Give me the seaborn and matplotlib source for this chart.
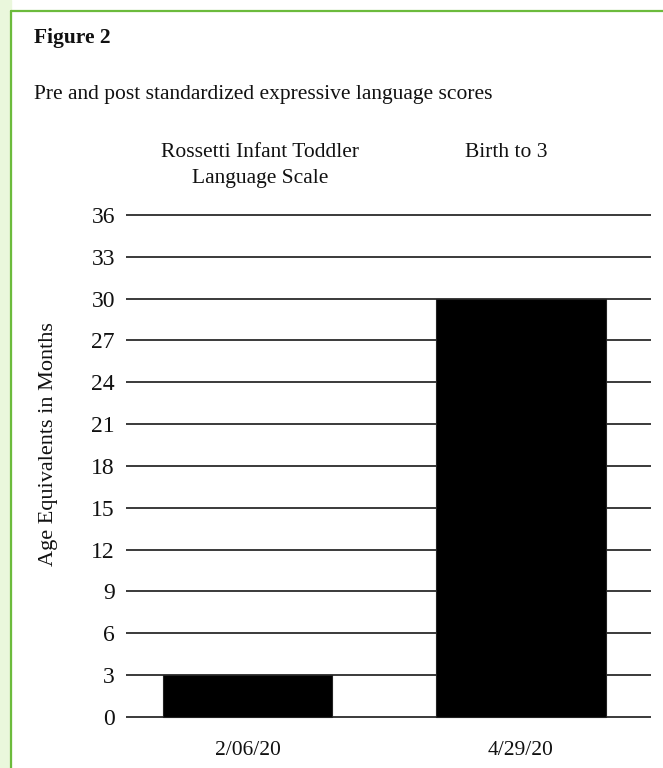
import matplotlib
matplotlib.use("Agg")
import matplotlib.pyplot as plt
import seaborn as sns
import pandas as pd

# data
test_dates = ["2/06/20", "4/29/20"]
age_equiv_months = [3, 30]
test_names = ["Rossetti Infant Toddler\nLanguage Scale", "Birth to 3"]
y_ticks = list(range(0, 37, 3))

SERIF = "Liberation Serif"
sns.set_theme(style="white")
plt.rcParams["font.family"] = "serif"
plt.rcParams["font.serif"] = [SERIF, "DejaVu Serif"]

W, H = 663, 768
fig = plt.figure(figsize=(W / 100, H / 100), dpi=100)

# green page frame like the source document
fig.patches.append(plt.Rectangle((0, 0), 10.5 / W, 1, transform=fig.transFigure,
                                 color="#eaf7dc", zorder=0))
fig.lines.append(plt.Line2D([10.5 / W, 10.5 / W], [0, 1 - 10.5 / H],
                            transform=fig.transFigure, color="#6cbb3c", lw=1.6))
fig.lines.append(plt.Line2D([10.5 / W, 1], [1 - 10.5 / H, 1 - 10.5 / H],
                            transform=fig.transFigure, color="#6cbb3c", lw=1.6))

# axes placed in pixel terms
px_per_unit = (717 - 215) / 36
pad = 0.3
bot_px = 717 + pad * px_per_unit
top_px = 215 - pad * px_per_unit
ax = fig.add_axes([126 / W, 1 - bot_px / H, (651 - 126) / W, (bot_px - top_px) / H])

df = pd.DataFrame({"date": test_dates, "months": age_equiv_months})
sns.barplot(data=df, x="date", y="months", color="black", width=0.62,
            edgecolor="#222222", linewidth=0.8, saturation=1, ax=ax, zorder=3)

ax.set_xlim(-0.444, 1.475)
ax.set_ylim(-pad, 36 + pad)
ax.set_yticks(y_ticks)
ax.yaxis.grid(True, color="#2b2b2b", linewidth=1.3)
ax.set_axisbelow(True)
for s in ax.spines.values():
    s.set_visible(False)
ax.tick_params(axis="y", length=0, pad=8, labelsize=17, labelcolor="#111111")
ax.tick_params(axis="x", length=0, pad=14, labelsize=15.5, labelcolor="#111111")
for lab in ax.get_xticklabels() + ax.get_yticklabels():
    lab.set_family(SERIF)
ax.set_xlabel("")
ax.set_ylabel("")

txt = dict(family=SERIF, fontsize=15.5, color="#111111")
fig.text(48 / W, 1 - 444 / H, "Age Equivalents in Months", rotation=90,
         ha="center", va="center", family=SERIF, fontsize=16, color="#111111")

fig.text(34 / W, 1 - 43 / H, "Figure 2", fontweight="bold",
         ha="left", va="baseline", **txt)
fig.text(34 / W, 1 - 99 / H, "Pre and post standardized expressive language scores",
         ha="left", va="baseline", **txt)

# column headers above the chart
first_line, second_line = test_names[0].split("\n")
fig.text(260 / W, 1 - 157 / H, first_line, ha="center", va="baseline", **txt)
fig.text(260 / W, 1 - 183 / H, second_line, ha="center", va="baseline", **txt)
fig.text(506 / W, 1 - 157 / H, test_names[1], ha="center", va="baseline", **txt)

fig.savefig("out.png", dpi=100)
